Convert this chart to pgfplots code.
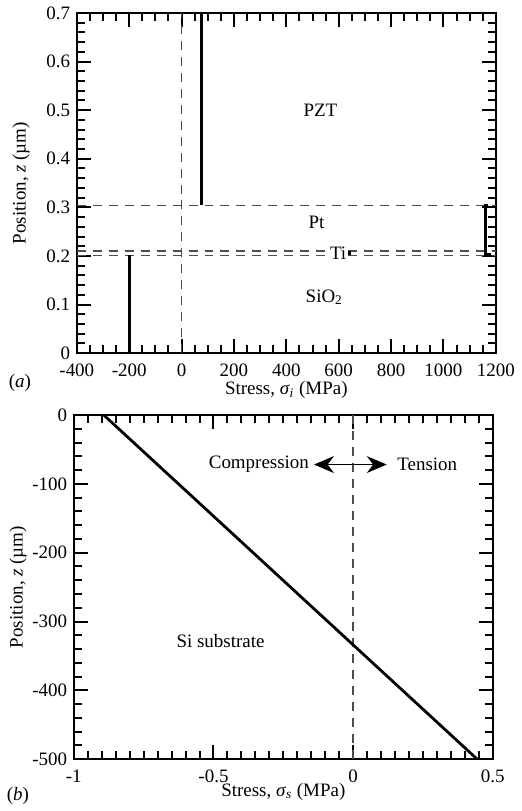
\documentclass[border=0pt]{standalone}
\usepackage{fontspec}
\setmainfont{Liberation Serif}
\usepackage{pgfplots}
\pgfplotsset{compat=1.18}
\usetikzlibrary{arrows.meta}

% shared look of both panels
\pgfplotsset{
  panel/.style={
    scale only axis, width=210pt,
    axis line style={line width=1pt},
    major tick style={black, line width=1pt},
    minor tick style={black, line width=1pt},
    major tick length=7pt, minor tick length=4pt,
    /pgf/number format/assume math mode=true,
    /pgf/number format/1000 sep={},
    tick label style={font=\fontsize{9.5}{11}\selectfont},
    xticklabel style={yshift=-2pt},
    label style={font=\fontsize{9.5}{11}\selectfont},
    ylabel style={at={(axis description cs:-0.133,0.5)}, anchor=center},
  },
  refline/.style={black!70, line width=0.7pt, dash pattern=on 4.5pt off 3.5pt, forget plot},
  prof/.style={black, line width=1.4pt, forget plot},
}

\begin{document}
\fontsize{9.5}{11}\selectfont
\begin{tikzpicture}
\path (0,0) rectangle (260.5pt,-405.5pt);

% (a) thin film stack
\begin{axis}[panel,
  at={(38.5pt,-6.5pt)}, anchor=north west, height=170.5pt,
  xmin=-400, xmax=1200, ymin=0, ymax=0.7,
  xtick={-400,-200,0,200,400,600,800,1000,1200},
  minor xtick={-350,-300,...,1150},
  ytick={0,0.1,0.2,0.3,0.4,0.5,0.6,0.7},
  minor ytick={0.02,0.04,...,0.69},
  xlabel={Stress, \textit{σ}\textsubscript{\textit{i}} (MPa)},
  xlabel style={at={(axis description cs:0.5,-0.108)}, anchor=center},
  ylabel={Position, \textit{z} (µm)},
]
\addplot[refline] coordinates {(-400,0.201) (1200,0.201)};
\addplot[refline] coordinates {(-400,0.21) (1200,0.21)};
\addplot[refline] coordinates {(-400,0.304) (1200,0.304)};
\addplot[refline] coordinates {(0,0) (0,0.7)};
\addplot[prof] coordinates {(-200,0) (-200,0.201)};
\addplot[prof] coordinates {(640,0.201) (640,0.21)};
\addplot[prof] coordinates {(1170,0.304) (1160,0.304) (1160,0.203) (1180,0.203)};
\addplot[prof] coordinates {(75,0.304) (75,0.7)};
\node at (axis cs:530,0.5) {PZT};
\node at (axis cs:515,0.27) {Pt};
\node[fill=white, inner sep=0.5pt] at (axis cs:598,0.2055) {Ti};
\node at (axis cs:545,0.115) {SiO\textsubscript{2}};
\end{axis}

% (b) substrate
\begin{axis}[panel,
  at={(37pt,-208pt)}, anchor=north west, height=172.5pt,
  xmin=-1, xmax=0.5, ymin=-500, ymax=0,
  xtick={-1,-0.5,0,0.5},
  minor xtick={-0.95,-0.9,...,0.46},
  ytick={-500,-400,-300,-200,-100,0},
  minor ytick={-480,-460,...,-10},
  xlabel={Stress, \textit{σ}\textsubscript{\textit{s}} (MPa)},
  xlabel style={at={(axis description cs:0.5,-0.095)}, anchor=center},
  ylabel={Position, \textit{z} (µm)},
]
\addplot[refline] coordinates {(0,-500) (0,0)};
\addplot[prof] coordinates {(-0.893,0) (0.444,-500)};
\draw[{Stealth[length=10pt,width=8.5pt]}-{Stealth[length=10pt,width=8.5pt]}, line width=0.5pt]
  (axis cs:-0.14,-72) -- (axis cs:0.12,-72);
\node[anchor=east, inner sep=0pt] at (axis cs:-0.157,-72) {Compression};
\node[anchor=west, inner sep=0pt] at (axis cs:0.157,-72) {Tension};
\node at (axis cs:-0.475,-329) {Si substrate};
\end{axis}

\node at (10pt,-192pt) {(\textit{a})};
\node at (9pt,-399pt) {(\textit{b})};
\end{tikzpicture}
\end{document}
